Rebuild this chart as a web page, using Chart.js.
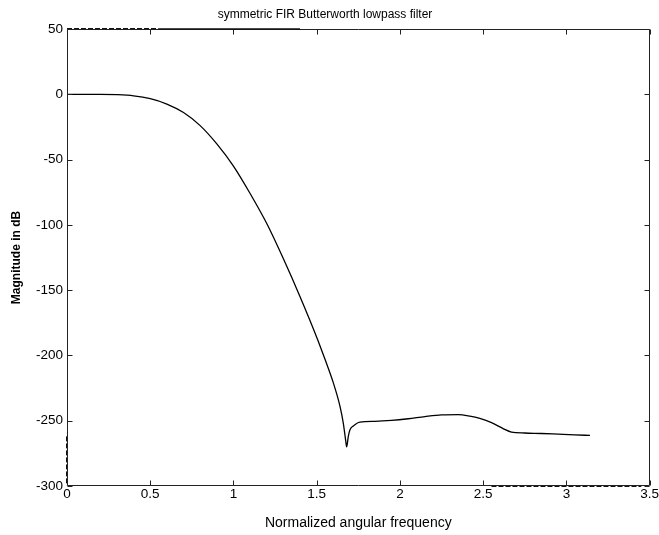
<!DOCTYPE html>
<html>
<head>
<meta charset="utf-8">
<script src="https://cdn.jsdelivr.net/npm/chart.js@4/dist/chart.umd.min.js"></script>
<style>
html,body{margin:0;padding:0;background:#fff;}
#wrap{width:659px;height:535px;}
</style>
</head>
<body>
<div id="wrap"><canvas id="c" width="659" height="535"></canvas></div>
<script>
// ---- data ----
const freq = [0, 0.1, 0.2, 0.3, 0.4, 0.5, 0.6, 0.7, 0.8, 0.9, 1.0, 1.1, 1.2, 1.3, 1.4, 1.5, 1.55, 1.6, 1.64, 1.66, 1.675, 1.68, 1.69, 1.70, 1.72, 1.76, 1.85, 1.95, 2.05, 2.15, 2.25, 2.35, 2.42, 2.48, 2.55, 2.62, 2.67, 2.75, 2.85, 2.95, 3.05, 3.1416];
const magnitudeDb = [0, 0, 0, -0.3, -1.2, -3.4, -7.5, -14, -24, -38, -55, -76, -99, -126, -155, -186, -203, -221, -239, -252, -266, -270, -262, -257, -254, -251, -250.5, -249.8, -248.5, -246.8, -245.5, -245.3, -246.5, -248.3, -251.5, -256, -258.7, -259.4, -259.8, -260.3, -260.8, -261.3];
const xTickValues = [0, 0.5, 1, 1.5, 2, 2.5, 3, 3.5];
const xTickLabels = ['0', '0.5', '1', '1.5', '2', '2.5', '3', '3.5'];
const yTickValues = [50, 0, -50, -100, -150, -200, -250, -300];
const yTickLabels = ['50', '0', '-50', '-100', '-150', '-200', '-250', '-300'];
const chartTitle = 'symmetric FIR Butterworth lowpass filter';
const xTitle = 'Normalized angular frequency';
const yTitle = 'Magnitude in dB';

const FONT = "'Liberation Sans', Arial, Helvetica, sans-serif";

// box + inward tick marks on all four sides (plus the heavier edge segments seen in the reference)
const framePlugin = {
  id: 'frame',
  afterDatasetsDraw(chart) {
    const {ctx, chartArea: a, scales: {x, y}} = chart;
    const L = 5;
    const l = Math.round(a.left) + 0.5, r = Math.round(a.right) - 0.5;
    const t = Math.round(a.top) + 0.5, b = Math.round(a.bottom) - 0.5;
    ctx.save();
    ctx.strokeStyle = '#222';
    ctx.lineWidth = 1;
    ctx.beginPath();
    ctx.rect(l, t, r - l, b - t);
    x.ticks.forEach(tk => {
      const px = Math.round(x.getPixelForValue(tk.value)) + 0.5;
      ctx.moveTo(px, b); ctx.lineTo(px, b - L);
      ctx.moveTo(px, t); ctx.lineTo(px, t + L);
    });
    y.ticks.forEach(tk => {
      const py = Math.round(y.getPixelForValue(tk.value)) + 0.5;
      ctx.moveTo(l, py); ctx.lineTo(l + L, py);
      ctx.moveTo(r, py); ctx.lineTo(r - L, py);
    });
    ctx.stroke();
    // heavier / dashed edge segments
    ctx.strokeStyle = '#111';
    ctx.setLineDash([5, 2]);
    ctx.beginPath();
    ctx.moveTo(x.getPixelForValue(0), t - 1); ctx.lineTo(x.getPixelForValue(0.55), t - 1);
    ctx.moveTo(l - 1, y.getPixelForValue(-262)); ctx.lineTo(l - 1, b);
    ctx.moveTo(x.getPixelForValue(2.55), b + 1); ctx.lineTo(x.getPixelForValue(3.45), b + 1);
    ctx.stroke();
    ctx.setLineDash([]);
    ctx.lineWidth = 1.5;
    ctx.beginPath();
    ctx.moveTo(x.getPixelForValue(0.55), t - 0.5); ctx.lineTo(x.getPixelForValue(1.4), t - 0.5);
    ctx.stroke();
    ctx.restore();
  }
};

new Chart(document.getElementById('c'), {
  type: 'line',
  data: {
    datasets: [{
      data: freq.map((f, i) => ({x: f, y: magnitudeDb[i]})),
      borderColor: '#000',
      borderWidth: 1.3,
      pointRadius: 0,
      cubicInterpolationMode: 'monotone',
      fill: false
    }]
  },
  options: {
    responsive: false,
    animation: false,
    layout: {padding: {left: 0, right: 9, top: 0, bottom: 0}},
    plugins: {
      legend: {display: false},
      tooltip: {enabled: false},
      title: {
        display: true,
        text: chartTitle,
        color: '#000',
        font: {family: FONT, size: 12, weight: 'normal', lineHeight: 1.2},
        padding: {top: 7.8, bottom: 6.8}
      }
    },
    scales: {
      x: {
        type: 'linear',
        min: 0, max: 3.5,
        afterBuildTicks: s => { s.ticks = xTickValues.map(v => ({value: v})); },
        afterFit: s => { s.height = 49; },
        grid: {display: false, drawTicks: false},
        border: {display: false},
        ticks: {
          color: '#000',
          font: {family: FONT, size: 13.5},
          padding: 0,
          maxRotation: 0,
          autoSkip: false,
          callback: (v, i) => xTickLabels[i]
        },
        title: {
          display: true,
          text: xTitle,
          color: '#000',
          font: {family: FONT, size: 14},
          padding: {top: 0, bottom: 3.6}
        }
      },
      y: {
        type: 'linear',
        min: -300, max: 50,
        afterBuildTicks: s => { s.ticks = yTickValues.map(v => ({value: v})); },
        afterFit: s => { s.width = 67; },
        grid: {display: false, drawTicks: false},
        border: {display: false},
        ticks: {
          color: '#000',
          font: {family: FONT, size: 13.5},
          padding: 4,
          autoSkip: false,
          callback: (v, i) => yTickLabels[i]
        },
        title: {
          display: true,
          text: yTitle,
          color: '#000',
          font: {family: FONT, size: 12, weight: 'bold'},
          padding: {top: 9.8, bottom: 0}
        }
      }
    }
  },
  plugins: [framePlugin]
});
</script>
</body>
</html>
